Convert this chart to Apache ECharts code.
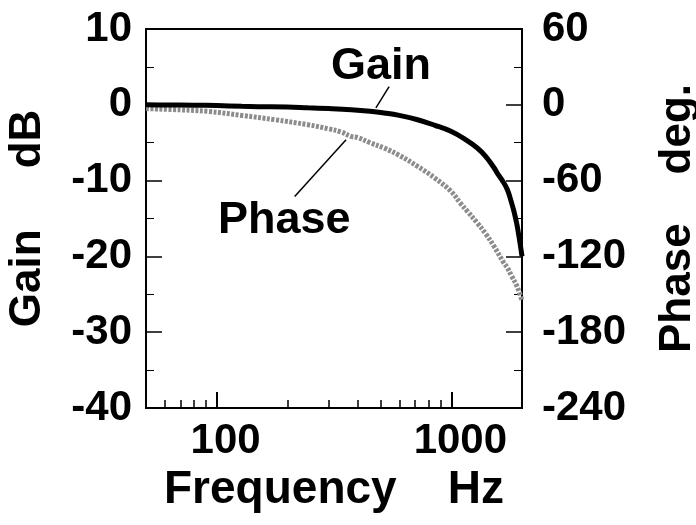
<!DOCTYPE html>
<html>
<head>
<meta charset="utf-8">
<script src="https://cdn.jsdelivr.net/npm/echarts@6/dist/echarts.min.js"></script>
<style>
  html, body { margin: 0; padding: 0; background: #fff; }
  #chart { width: 696px; height: 525px; }
</style>
</head>
<body>
<div id="chart"></div>
<script>
const gainFreq = [50, 60, 80, 100, 128, 150, 200, 245, 300, 374, 450, 518, 600, 718, 850, 996, 1150, 1290, 1400, 1520, 1568, 1650, 1733, 1800, 1846, 1900, 1937, 1970, 2000];
const gainDb = [0, -0.02, -0.05, -0.1, -0.2, -0.25, -0.3, -0.4, -0.5, -0.65, -0.85, -1.08, -1.4, -1.97, -2.7, -3.5, -4.6, -5.7, -6.8, -8.3, -9.0, -10.0, -11.2, -12.8, -14.0, -15.7, -17.2, -18.6, -20];
const phaseFreq = [50, 70, 92, 128, 177, 245, 300, 339, 374, 399, 450, 518, 600, 718, 850, 996, 1094, 1170, 1290, 1400, 1520, 1672, 1733, 1800, 1905, 2000];
const phaseDeg = [-3, -4, -5.2, -8.4, -11.8, -15.8, -19, -21.5, -25, -26, -30, -34.3, -40, -48.7, -58, -68.4, -78, -84.3, -93.6, -102, -112, -125, -129, -135, -143.7, -155];
const majorFreqTicks = [100, 1000];
const minorFreqTicks = [60, 70, 80, 90, 200, 300, 400, 500, 600, 700, 800, 900];

const font = 'Liberation Sans';
let myChart = echarts.init(document.getElementById('chart'));

const pairs = (xs, ys) => xs.map((x, i) => [x, ys[i]]);

myChart.setOption({
  animation: false,
  grid: {
    left: 146, right: 174, top: 29, bottom: 117,
    outerBoundsMode: 'none', containLabel: false,
    show: true, borderColor: '#000', borderWidth: 2
  },
  xAxis: [{
    type: 'log', logBase: 10, min: 50, max: 2000,
    name: 'Frequency    Hz',
    nameLocation: 'middle', nameGap: 49,
    nameTextStyle: { fontFamily: font, fontWeight: 'bold', fontSize: 46, color: '#000' },
    axisLine: { onZero: false, lineStyle: { color: '#000', width: 2 } },
    axisTick: { inside: true, length: 16, customValues: majorFreqTicks, lineStyle: { color: '#000', width: 2 } },
    axisLabel: { customValues: majorFreqTicks, margin: 12, padding: [0, 0, 0, 18],
      formatter: v => String(v),
      fontFamily: font, fontWeight: 'bold', fontSize: 42, color: '#000' },
    splitLine: { show: false },
    minorTick: { show: false }
  }, {
    type: 'log', logBase: 10, min: 50, max: 2000,
    position: 'bottom',
    axisLine: { show: false, onZero: false },
    axisTick: { inside: true, length: 8, customValues: minorFreqTicks, lineStyle: { color: '#000', width: 1.5 } },
    axisLabel: { show: false },
    splitLine: { show: false }
  }],
  yAxis: [{
    type: 'value', min: -40, max: 10, interval: 10,
    name: 'Gain     dB',
    nameLocation: 'middle', nameGap: 96, nameRotate: 90,
    nameTextStyle: { fontFamily: font, fontWeight: 'bold', fontSize: 44, color: '#000' },
    axisLine: { show: true, onZero: false, lineStyle: { color: '#000', width: 2 } },
    axisTick: { inside: true, length: 16, lineStyle: { color: '#000', width: 1.5 } },
    minorTick: { show: true, splitNumber: 2, length: 8, lineStyle: { color: '#000', width: 1 } },
    axisLabel: { margin: 14, fontFamily: font, fontWeight: 'bold', fontSize: 42, color: '#000' },
    splitLine: { show: false }
  }, {
    type: 'value', min: -240, max: 60, interval: 60,
    position: 'right',
    name: 'Phase    deg.',
    nameLocation: 'middle', nameGap: 134, nameRotate: 90,
    nameTextStyle: { fontFamily: font, fontWeight: 'bold', fontSize: 44, color: '#000' },
    axisLine: { show: true, onZero: false, lineStyle: { color: '#000', width: 2 } },
    axisTick: { inside: true, length: 16, lineStyle: { color: '#000', width: 1.5 } },
    minorTick: { show: true, splitNumber: 2, length: 8, lineStyle: { color: '#000', width: 1 } },
    axisLabel: { margin: 20, fontFamily: font, fontWeight: 'bold', fontSize: 42, color: '#000' },
    splitLine: { show: false }
  }],
  series: [{
    name: 'Phase',
    type: 'line',
    yAxisIndex: 1,
    data: pairs(phaseFreq, phaseDeg),
    showSymbol: false,
    smooth: 0.4,
    lineStyle: { color: '#8c8c8c', width: 5, type: [3, 1.5] },
    markLine: {
      silent: true, symbol: 'none', label: { show: false },
      lineStyle: { color: '#000', width: 1.5, type: 'solid' },
      data: [[{ coord: [215, -72.6] }, { coord: [356, -27.6] }]]
    }
  }, {
    name: 'Gain',
    type: 'line',
    data: pairs(gainFreq, gainDb),
    showSymbol: false,
    smooth: 0.4,
    lineStyle: { color: '#000', width: 5 },
    markLine: {
      silent: true, symbol: 'none', label: { show: false },
      lineStyle: { color: '#000', width: 1.5, type: 'solid' },
      data: [[{ coord: [543, 2.4] }, { coord: [477, -0.4] }]]
    }
  }],
  graphic: [
    { type: 'text', left: 331, top: 44,
      style: { text: 'Gain', fontFamily: font, fontWeight: 'bold', fontSize: 45, fill: '#000' } },
    { type: 'text', left: 218, top: 198,
      style: { text: 'Phase', fontFamily: font, fontWeight: 'bold', fontSize: 45, fill: '#000' } }
  ]
});
window.addEventListener('resize', function () {
  myChart.resize();
});
</script>
</body>
</html>
